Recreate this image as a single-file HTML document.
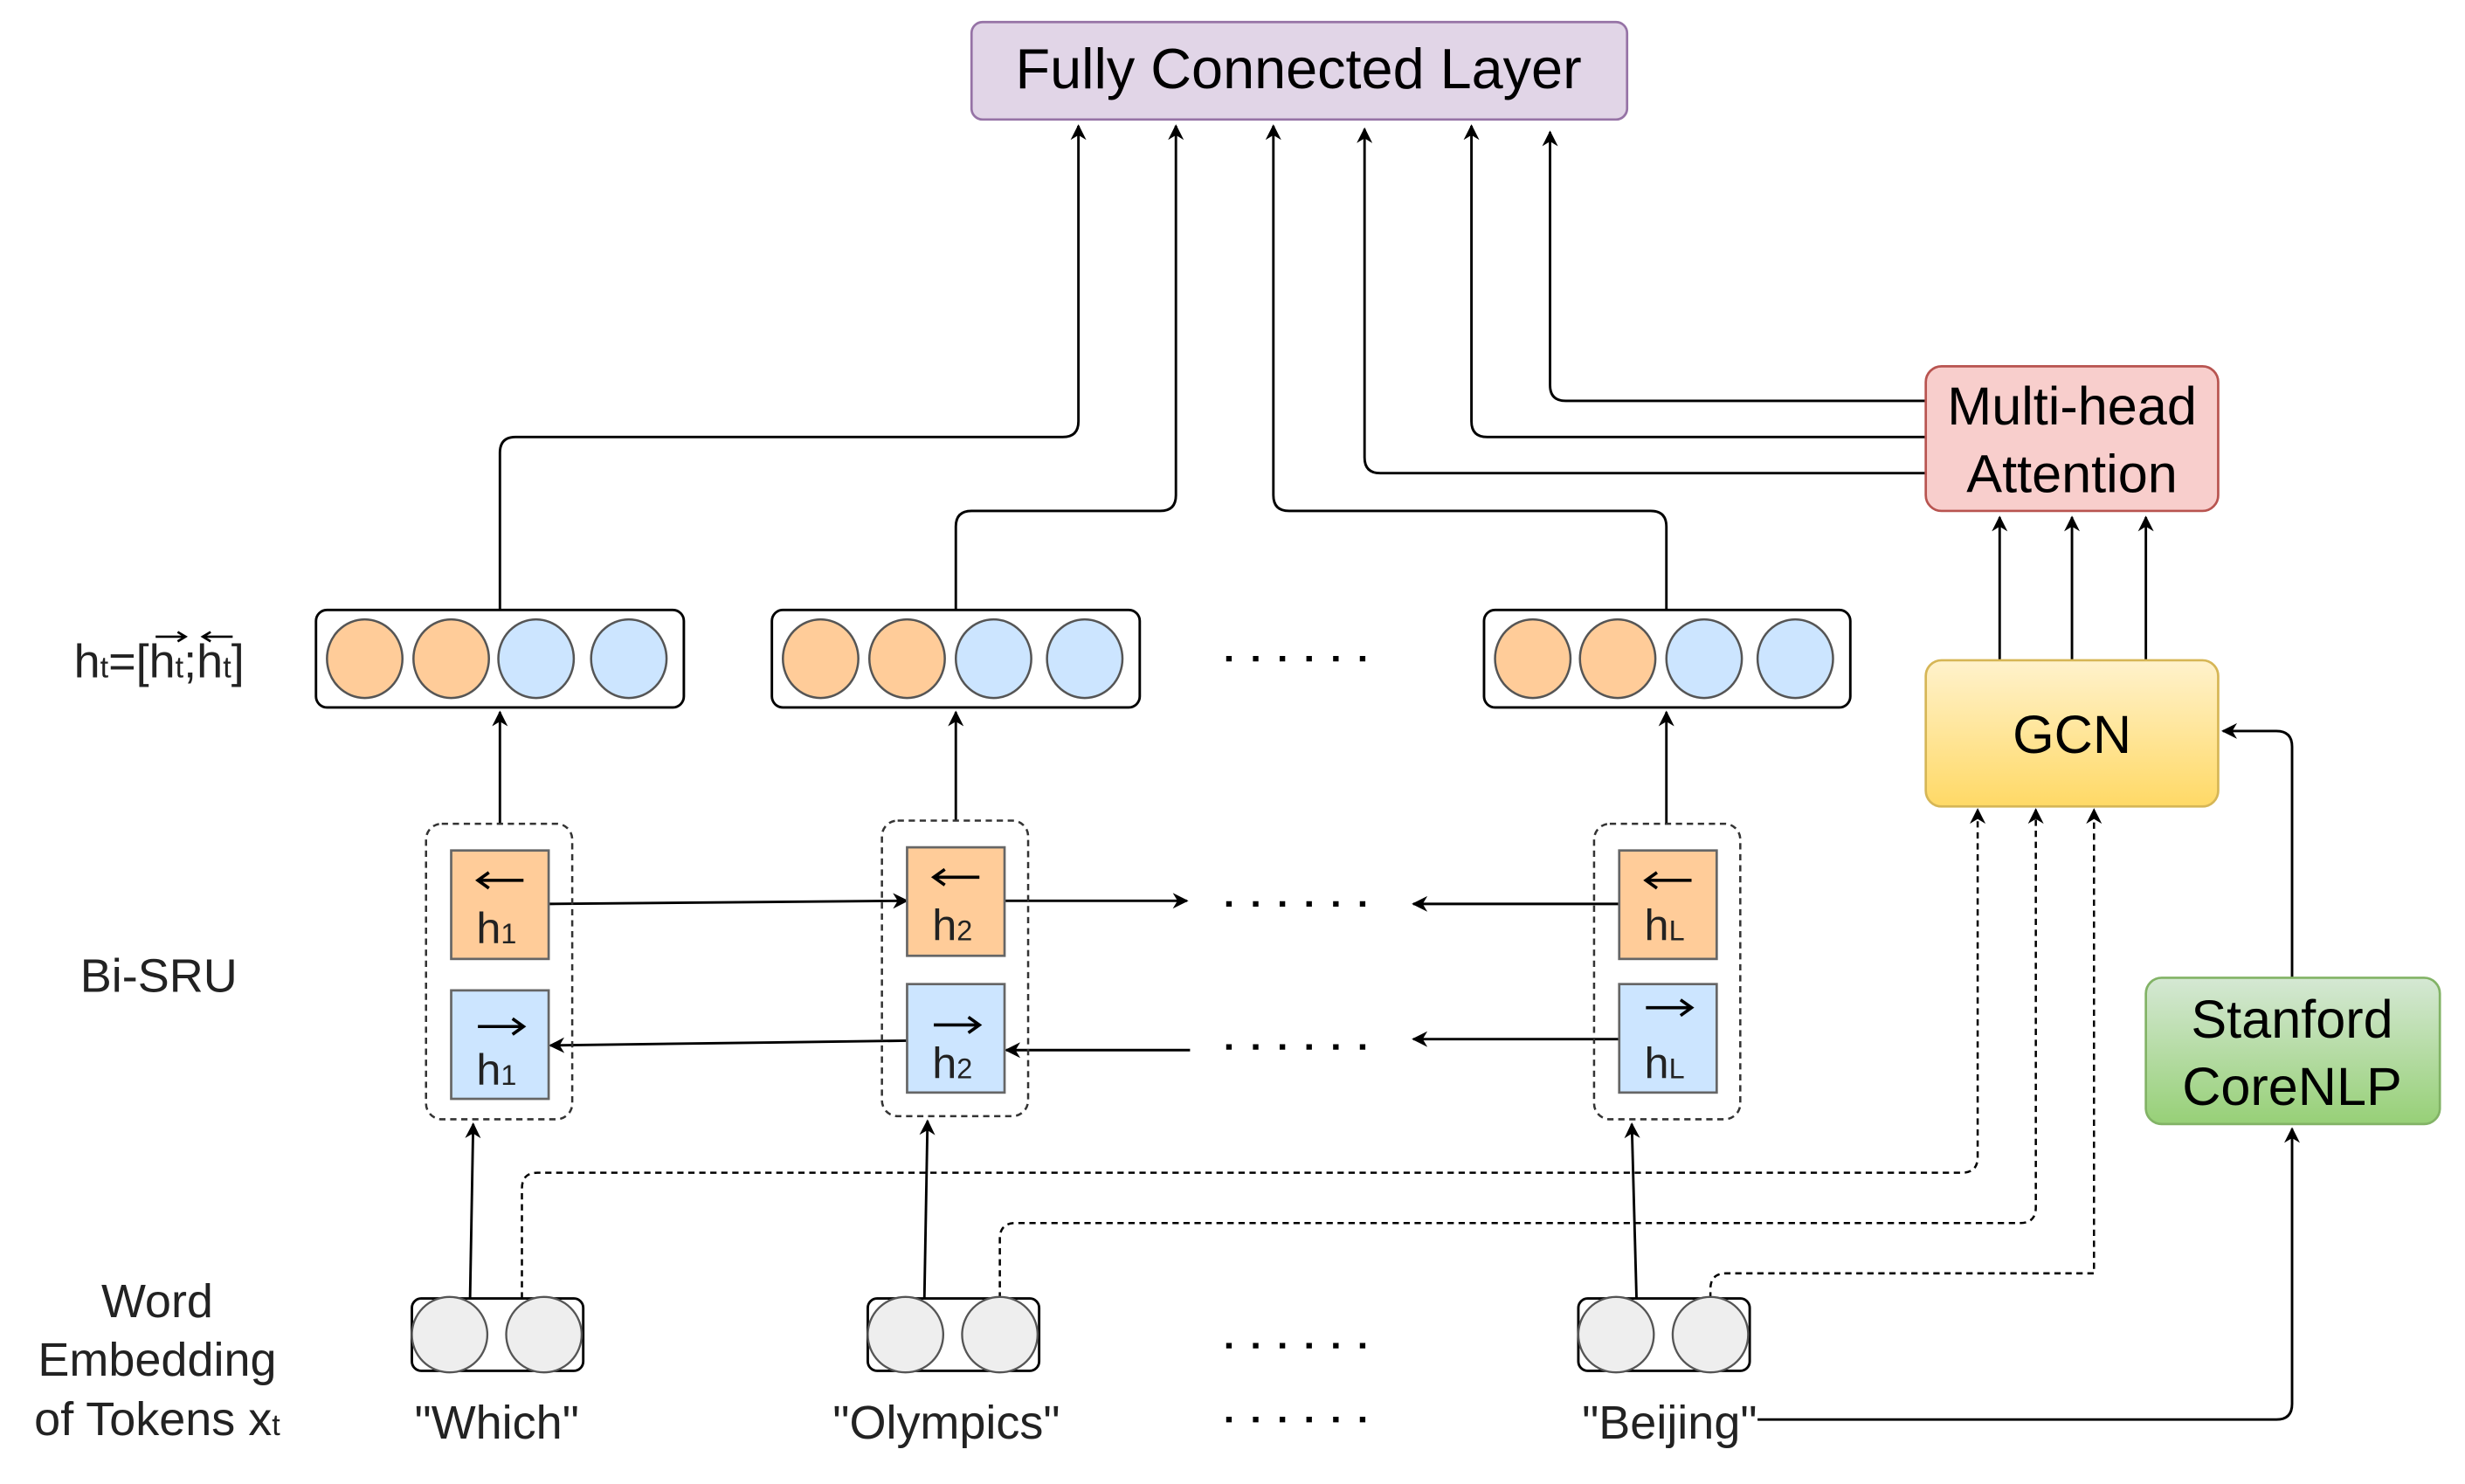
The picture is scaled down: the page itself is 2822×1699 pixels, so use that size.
<!DOCTYPE html>
<html><head><meta charset="utf-8"><style>html,body{margin:0;padding:0;background:#fff}svg{display:block}</style></head>
<body>
<svg width="2822" height="1699" viewBox="0 0 1568 944" xmlns="http://www.w3.org/2000/svg" font-family="Liberation Sans, sans-serif">
<defs>
<marker id="a" viewBox="0 0 10 10" refX="9" refY="5" markerWidth="10" markerHeight="10" markerUnits="userSpaceOnUse" orient="auto"><path d="M0,0 L10,5 L0,10 L3,5 z" fill="#000"/></marker>
<linearGradient id="gy" x1="0" y1="0" x2="0" y2="1"><stop offset="0" stop-color="#fff2cc"/><stop offset="1" stop-color="#ffd966"/></linearGradient>
<linearGradient id="gg" x1="0" y1="0" x2="0" y2="1"><stop offset="0" stop-color="#d5e8d4"/><stop offset="1" stop-color="#97d077"/></linearGradient>
</defs>
<rect width="1568" height="944" fill="#fff"/>
<g fill="none" stroke="#000" stroke-width="1.6">
<!-- to FC -->
<path d="M318,388 V288 Q318,278 328,278 H676 Q686,278 686,268 V80" marker-end="url(#a)"/>
<path d="M608,388 V335 Q608,325 618,325 H738 Q748,325 748,315 V80" marker-end="url(#a)"/>
<path d="M1060,388 V335 Q1060,325 1050,325 H820 Q810,325 810,315 V80" marker-end="url(#a)"/>
<path d="M1225,301 H878 Q868,301 868,291 V82" marker-end="url(#a)"/>
<path d="M1225,278 H946 Q936,278 936,268 V80" marker-end="url(#a)"/>
<path d="M1225,255 H996 Q986,255 986,245 V84" marker-end="url(#a)"/>
<!-- GCN to MHA -->
<path d="M1272,420 V329" marker-end="url(#a)"/>
<path d="M1318,420 V329" marker-end="url(#a)"/>
<path d="M1365,420 V329" marker-end="url(#a)"/>
<!-- stanford to GCN -->
<path d="M1458,622 V475 Q1458,465 1448,465 H1414" marker-end="url(#a)"/>
<path d="M1118,903 H1448 Q1458,903 1458,893 V718" marker-end="url(#a)"/>
<!-- SRU to vectors -->
<path d="M318,524 V453" marker-end="url(#a)"/>
<path d="M608,522 V453" marker-end="url(#a)"/>
<path d="M1060,524 V453" marker-end="url(#a)"/>
<!-- embeddings to SRU -->
<path d="M299,826 L301,715" marker-end="url(#a)"/>
<path d="M588,826 L590,713" marker-end="url(#a)"/>
<path d="M1041,826 L1038,715" marker-end="url(#a)"/>
<!-- horizontal -->
<path d="M349,575 L577,573" marker-end="url(#a)"/>
<path d="M639,573 H755" marker-end="url(#a)"/>
<path d="M1030,575 H899" marker-end="url(#a)"/>
<path d="M577,662 L350,665" marker-end="url(#a)"/>
<path d="M757,668 H640" marker-end="url(#a)"/>
<path d="M1030,661 H899" marker-end="url(#a)"/>
<!-- dashed -->
<g stroke-dasharray="4 3" stroke-width="1.4">
<path d="M332,826 V756 Q332,746 342,746 H1248 Q1258,746 1258,736 V515" marker-end="url(#a)"/>
<path d="M636,826 V788 Q636,778 646,778 H1285 Q1295,778 1295,768 V515" marker-end="url(#a)"/>
<path d="M1088,826 V820 Q1088,810 1098,810 H1332 V515" marker-end="url(#a)"/>
</g>
</g>
<!-- FC -->
<rect x="618" y="14" width="417" height="62" rx="7" fill="#e1d5e7" stroke="#9673a6" stroke-width="1.5"/>
<text x="826" y="56" font-size="36" text-anchor="middle">Fully Connected Layer</text>
<!-- MHA -->
<rect x="1225" y="233" width="186" height="92" rx="10" fill="#f8cecc" stroke="#b85450" stroke-width="1.5"/>
<text x="1318" y="270" font-size="34" text-anchor="middle">Multi-head</text>
<text x="1318" y="313" font-size="34" text-anchor="middle">Attention</text>
<!-- GCN -->
<rect x="1225" y="420" width="186" height="93" rx="10" fill="url(#gy)" stroke="#d6b656" stroke-width="1.5"/>
<text x="1318" y="479" font-size="34" text-anchor="middle">GCN</text>
<!-- Stanford -->
<rect x="1365" y="622" width="187" height="93" rx="10" fill="url(#gg)" stroke="#82b366" stroke-width="1.5"/>
<text x="1458" y="660" font-size="34" text-anchor="middle">Stanford</text>
<text x="1458" y="703" font-size="34" text-anchor="middle">CoreNLP</text>
<!-- vector boxes -->
<g stroke="#000" stroke-width="1.6" fill="#fff">
<rect x="201" y="388" width="234" height="62" rx="7"/>
<rect x="491" y="388" width="234" height="62" rx="7"/>
<rect x="944" y="388" width="233" height="62" rx="7"/>
</g>
<g stroke="#555" stroke-width="1.4">
<ellipse cx="232" cy="419" rx="24" ry="25" fill="#ffcc99"/><ellipse cx="287" cy="419" rx="24" ry="25" fill="#ffcc99"/>
<ellipse cx="341" cy="419" rx="24" ry="25" fill="#cce5ff"/><ellipse cx="400" cy="419" rx="24" ry="25" fill="#cce5ff"/>
<ellipse cx="522" cy="419" rx="24" ry="25" fill="#ffcc99"/><ellipse cx="577" cy="419" rx="24" ry="25" fill="#ffcc99"/>
<ellipse cx="632" cy="419" rx="24" ry="25" fill="#cce5ff"/><ellipse cx="690" cy="419" rx="24" ry="25" fill="#cce5ff"/>
<ellipse cx="975" cy="419" rx="24" ry="25" fill="#ffcc99"/><ellipse cx="1029" cy="419" rx="24" ry="25" fill="#ffcc99"/>
<ellipse cx="1084" cy="419" rx="24" ry="25" fill="#cce5ff"/><ellipse cx="1142" cy="419" rx="24" ry="25" fill="#cce5ff"/>
</g>
<!-- dashed SRU boxes -->
<g fill="none" stroke="#333" stroke-width="1.4" stroke-dasharray="4 3">
<rect x="271" y="524" width="93" height="188" rx="10"/>
<rect x="561" y="522" width="93" height="188" rx="10"/>
<rect x="1014" y="524" width="93" height="188" rx="10"/>
</g>
<g stroke="#666" stroke-width="1.5">
<rect x="287" y="541" width="62" height="69" fill="#ffcc99"/>
<rect x="287" y="630" width="62" height="69" fill="#cce5ff"/>
<rect x="577" y="539" width="62" height="69" fill="#ffcc99"/>
<rect x="577" y="626" width="62" height="69" fill="#cce5ff"/>
<rect x="1030" y="541" width="62" height="69" fill="#ffcc99"/>
<rect x="1030" y="626" width="62" height="69" fill="#cce5ff"/>
</g>
<g font-size="28" fill="#222">
<text x="303" y="600">h<tspan font-size="18">1</tspan></text>
<text x="303" y="690">h<tspan font-size="18">1</tspan></text>
<text x="593" y="598">h<tspan font-size="18">2</tspan></text>
<text x="593" y="686">h<tspan font-size="18">2</tspan></text>
<text x="1046" y="598">h<tspan font-size="18">L</tspan></text>
<text x="1046" y="686">h<tspan font-size="18">L</tspan></text>
</g>
<g fill="none" stroke="#000" stroke-width="2">
<path d="M333,560 H305"/><path d="M311,555 L304,560 L311,565"/>
<path d="M304,653 H332"/><path d="M326,648 L333,653 L326,658"/>
<path d="M623,558 H595"/><path d="M601,553 L594,558 L601,563"/>
<path d="M594,652 H622"/><path d="M616,647 L623,652 L616,657"/>
<path d="M1076,560 H1048"/><path d="M1054,555 L1047,560 L1054,565"/>
<path d="M1047,641 H1075"/><path d="M1069,636 L1076,641 L1069,646"/>
</g>
<!-- embeddings -->
<g stroke="#000" stroke-width="1.6" fill="#fff">
<rect x="262" y="826" width="109" height="46" rx="6"/>
<rect x="552" y="826" width="109" height="46" rx="6"/>
<rect x="1004" y="826" width="109" height="46" rx="6"/>
</g>
<g stroke="#555" stroke-width="1.3" fill="#eeeeee">
<ellipse cx="286" cy="849" rx="24" ry="24"/><ellipse cx="346" cy="849" rx="24" ry="24"/>
<ellipse cx="576" cy="849" rx="24" ry="24"/><ellipse cx="636" cy="849" rx="24" ry="24"/>
<ellipse cx="1028" cy="849" rx="24" ry="24"/><ellipse cx="1088" cy="849" rx="24" ry="24"/>
</g>
<!-- dots -->
<g stroke="#000" stroke-width="3.5" stroke-dasharray="3.5 13.5">
<path d="M780,419 H876"/><path d="M780,575 H876"/><path d="M780,666 H876"/><path d="M780,856 H876"/><path d="M780,903 H876"/>
</g>
<!-- labels -->
<g font-size="30" fill="#222" text-anchor="middle">
<text x="101" y="631">Bi-SRU</text>
<text x="100" y="838">Word</text>
<text x="100" y="875">Embedding</text>
<text x="100" y="913">of Tokens x<tspan font-size="19">t</tspan></text>
<text x="316" y="915">"Which"</text>
<text x="602" y="915">"Olympics"</text>
<text x="1062" y="915">"Beijing"</text>
</g>
<g font-size="30" fill="#222">
<text x="47" y="431">h<tspan font-size="19">t</tspan>=[h<tspan font-size="19">t</tspan>;h<tspan font-size="19">t</tspan>]</text>
</g>
<g fill="none" stroke="#000" stroke-width="1.5">
<path d="M99,405 H117"/><path d="M113,402 L118,405 L113,408"/>
<path d="M130,405 H148"/><path d="M134,402 L129,405 L134,408"/>
</g>
</svg>
</body></html>
